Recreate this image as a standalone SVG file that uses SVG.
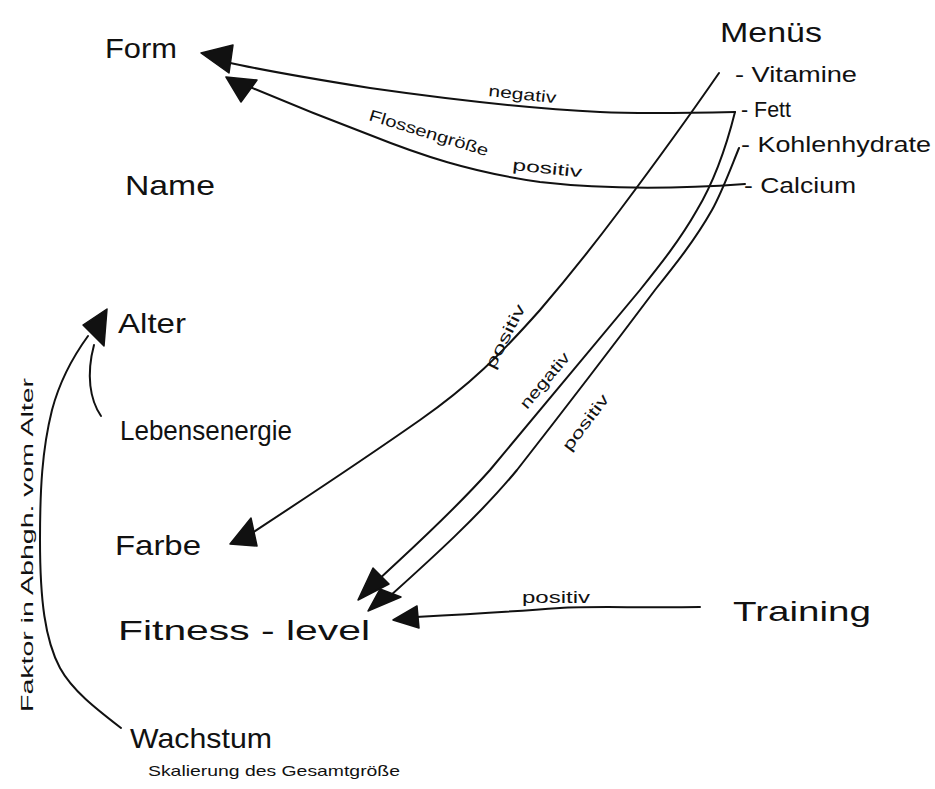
<svg xmlns="http://www.w3.org/2000/svg" width="935" height="789" viewBox="0 0 935 789">
  <style>
    .lbl { font-family: "Liberation Sans", "DejaVu Sans", sans-serif; fill: #111; }
    .node { font-size: 28px; }
    .item { font-size: 22px; }
    .edge { font-size: 16px; }
    .wire { fill: none; stroke: #111; stroke-width: 2; stroke-linecap: round; stroke-linejoin: round; }
    .head { fill: #111; stroke: #111; stroke-width: 1.5; stroke-linejoin: round; }
  </style>
  <rect width="935" height="789" fill="#fff"/>

  <!-- nodes -->
  <g id="form"><text class="lbl node" x="105" y="58" textLength="72" lengthAdjust="spacingAndGlyphs">Form</text></g>
  <g id="name"><text class="lbl node" x="125" y="195" textLength="90" lengthAdjust="spacingAndGlyphs">Name</text></g>
  <g id="alter"><text class="lbl node" x="118" y="333" textLength="68" lengthAdjust="spacingAndGlyphs">Alter</text></g>
  <g id="lebensenergie"><text class="lbl node" x="120" y="440" textLength="172" lengthAdjust="spacingAndGlyphs">Lebensenergie</text></g>
  <g id="farbe"><text class="lbl node" x="115" y="555" textLength="86" lengthAdjust="spacingAndGlyphs">Farbe</text></g>
  <g id="fitness"><text class="lbl node" x="118" y="640" textLength="252" lengthAdjust="spacingAndGlyphs">Fitness - level</text></g>
  <g id="training"><text class="lbl node" x="733" y="621" font-size="32" textLength="138" lengthAdjust="spacingAndGlyphs">Training</text></g>
  <g id="wachstum">
    <text class="lbl node" x="130" y="748" textLength="142" lengthAdjust="spacingAndGlyphs">Wachstum</text>
    <text class="lbl" x="148" y="776" font-size="15" textLength="252" lengthAdjust="spacingAndGlyphs">Skalierung des Gesamtgröße</text>
  </g>
  <g id="menues">
    <text class="lbl node" x="720" y="42" font-size="30" textLength="102" lengthAdjust="spacingAndGlyphs">Menüs</text>
    <text id="vitamine" class="lbl item" x="735" y="82" textLength="122" lengthAdjust="spacingAndGlyphs">- Vitamine</text>
    <text id="fett" class="lbl item" x="741" y="117" textLength="50" lengthAdjust="spacingAndGlyphs">- Fett</text>
    <text id="kohlenhydrate" class="lbl item" x="741" y="152" textLength="190" lengthAdjust="spacingAndGlyphs">- Kohlenhydrate</text>
    <text id="calcium" class="lbl item" x="744" y="193" textLength="112" lengthAdjust="spacingAndGlyphs">- Calcium</text>
  </g>

  <!-- connectors -->
  <g id="connectors">
    <!-- Fett to Form -->
    <path class="wire" d="M735,112 C690,113 640,114 600,112 C520,108 440,98 370,88 C320,80 270,72 226,62"/>
    <polygon class="head" points="201,53 233,45 229,73"/>
    <!-- Calcium to Form -->
    <path class="wire" d="M745,184 C690,188 610,190 540,182 C470,172 420,155 370,135 C330,120 290,104 250,87"/>
    <polygon class="head" points="226,77 257,80 241,102"/>
    <!-- Vitamine to Farbe -->
    <path class="wire" d="M719,73 C690,115 650,170 620,210 C590,250 570,275 540,310 C500,355 470,385 420,420 C360,462 310,495 252,533"/>
    <polygon class="head" points="230,544 251,518 257,546"/>
    <!-- Fett to Fitness-level -->
    <path class="wire" d="M735,112 C728,140 715,180 697,210 C680,240 660,265 640,290 C590,350 540,410 490,470 C450,515 410,550 375,583"/>
    <polygon class="head" points="358,600 373,568 389,584"/>
    <!-- Kohlenhydrate to Fitness-level -->
    <path class="wire" d="M739,148 C730,170 722,192 712,210 C695,240 675,265 655,290 C610,350 560,415 517,470 C480,515 430,560 390,596"/>
    <polygon class="head" points="368,611 380,589 401,597"/>
    <!-- Training to Fitness-level -->
    <path class="wire" d="M700,607 C640,608 590,606 560,608 C520,611 470,614 416,617"/>
    <polygon class="head" points="393,620 417,606 419,628"/>
    <!-- Lebensenergie to Alter -->
    <path class="wire" d="M101,416 C90,400 86,375 94,345"/>
    <!-- Wachstum to Alter -->
    <path class="wire" d="M121,728 C95,708 72,690 60,668 C45,640 40,600 40,540 C40,490 42,450 52,410 C60,380 72,358 88,336"/>
    <polygon class="head" points="83,325 107,309 104,346"/>

    <!-- connector labels -->
    <text class="lbl edge" x="488" y="96" font-size="18" textLength="68" lengthAdjust="spacingAndGlyphs" transform="rotate(6 488 96)">negativ</text>
    <text class="lbl edge" x="368" y="120" textLength="124" lengthAdjust="spacingAndGlyphs" transform="rotate(17 368 120)">Flossengröße</text>
    <text class="lbl edge" x="512" y="170" textLength="70" lengthAdjust="spacingAndGlyphs" transform="rotate(6 512 170)">positiv</text>
    <text class="lbl edge" x="494" y="370" textLength="70" lengthAdjust="spacingAndGlyphs" transform="rotate(-63 494 370)">positiv</text>
    <text class="lbl edge" x="527" y="410" textLength="68" lengthAdjust="spacingAndGlyphs" transform="rotate(-50 527 410)">negativ</text>
    <text class="lbl edge" x="570" y="452" textLength="66" lengthAdjust="spacingAndGlyphs" transform="rotate(-53 570 452)">positiv</text>
    <text class="lbl edge" x="522" y="603" textLength="68" lengthAdjust="spacingAndGlyphs">positiv</text>
    <text class="lbl edge" x="33" y="712" font-size="15" textLength="334" lengthAdjust="spacingAndGlyphs" transform="rotate(-90 33 712)">Faktor in Abhgh. vom Alter</text>
  </g>
</svg>
